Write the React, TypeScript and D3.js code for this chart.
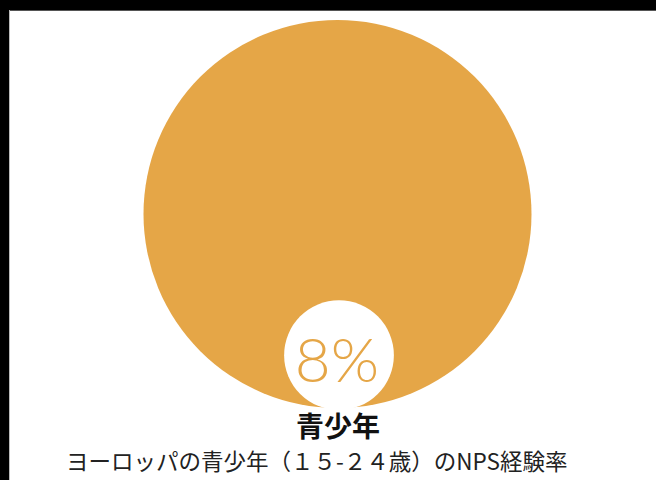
import React from "react";
import * as d3 from "d3";

const categories = ["青少年"];
const values = [8]; // percent
const caption = "ヨーロッパの青少年（１５-２４歳）のNPS経験率";

const W = 656;
const H = 480;

export default function App() {
  const R = 194;
  const cx = 337.5;
  const cy = 214;
  const rScale = d3.scaleSqrt().domain([0, 100]).range([0, R]);
  const v = values[0];
  const r = rScale(v);
  const scx = 339;
  const scy = cy + R - r + 2;
  return (
    <svg
      width={W}
      height={H}
      style={{ position: "absolute", left: 0, top: 0, display: "block" }}
    >
      <rect x={0} y={0} width={W} height={H} fill="#ffffff" />
      <rect x={0} y={0} width={W} height={10} fill="#000000" />
      <rect x={0} y={10} width={W} height={1} fill="#555555" />
      <rect x={0} y={0} width={9} height={H} fill="#000000" />
      <rect x={9} y={10} width={1} height={H} fill="#bbbbbb" />
      <circle cx={cx} cy={cy} r={rScale(100)} fill="#E5A647" />
      <circle cx={scx} cy={scy} r={r} fill="#ffffff" />
      <text
        x={scx - 2}
        y={scy + 27}
        textAnchor="middle"
        fontFamily="Lato, 'Open Sans', sans-serif"
        fontWeight={300}
        fontSize={62}
        fill="#E5A647"
      >
        {`${v}%`}
      </text>
      <text
        x={338}
        y={437}
        textAnchor="middle"
        fontFamily="'Noto Sans CJK JP', sans-serif"
        fontWeight={700}
        fontSize={28}
        fill="#111111"
      >
        {categories[0]}
      </text>
      <text
        x={66}
        y={470}
        textAnchor="start"
        fontFamily="'Noto Sans CJK JP', sans-serif"
        fontWeight={400}
        fontSize={22.5}
        fill="#222222"
      >
        {caption}
      </text>
    </svg>
  );
}
